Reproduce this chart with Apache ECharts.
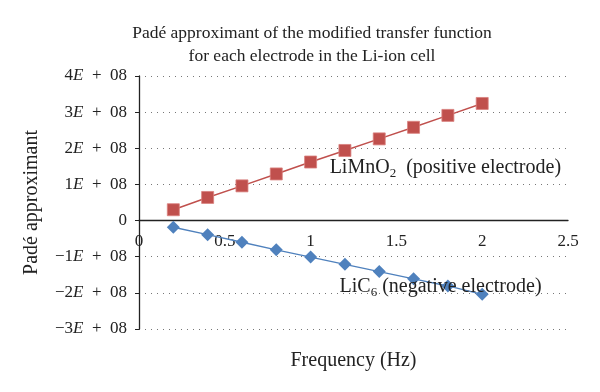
<!DOCTYPE html>
<html><head><meta charset="utf-8">
<script src="https://cdn.jsdelivr.net/npm/echarts@6/dist/echarts.min.js"></script>
<style>html,body{margin:0;padding:0;background:#fff}#c{width:600px;height:392px}</style>
</head><body><div id="c"></div>
<script>
const frequency = [0.2, 0.4, 0.6, 0.8, 1.0, 1.2, 1.4, 1.6, 1.8, 2.0];
const positiveLiMnO2 = [3.0e7, 6.4e7, 9.6e7, 1.29e8, 1.62e8, 1.94e8, 2.26e8, 2.58e8, 2.91e8, 3.24e8];
const negativeLiC6 = [-1.85e7, -3.9e7, -6.0e7, -8.1e7, -1.01e8, -1.21e8, -1.41e8, -1.61e8, -1.81e8, -2.04e8];
const titleLines = ['Padé approximant of the modified transfer function', 'for each electrode in the Li-ion cell'];

const FONT = '"Liberation Serif", "DejaVu Serif", serif';
const FS = 17;
const FN = 20;
const chart = echarts.init(document.getElementById('c'));
const subRich = { s: { fontFamily: FONT, fontSize: 13, color: '#222', verticalAlign: 'bottom', padding: [11, 0, 0, 0] } };
const GRID = { left: 139, right: 32, top: 76, bottom: 63, outerBoundsMode: 'none', containLabel: false };
chart.setOption({
  backgroundColor: '#fff',
  animation: false,
  textStyle: { fontFamily: FONT },
  title: {
    text: titleLines.join('\n'),
    left: 307, top: 17, textAlign: 'center',
    textStyle: { fontFamily: FONT, fontWeight: 'normal', fontSize: 17.5, color: '#222', lineHeight: 23 }
  },
  grid: GRID,
  xAxis: {
    type: 'value', min: 0, max: 2.5, interval: 0.5,
    name: 'Frequency (Hz)', nameLocation: 'middle', nameGap: 130,
    nameTextStyle: { fontFamily: FONT, fontSize: FN, color: '#222' },
    axisLine: { onZero: false, lineStyle: { color: '#222', width: 1.3 } },
    axisTick: { show: false },
    splitLine: { show: false },
    axisLabel: { fontFamily: FONT, fontSize: FS, color: '#222', margin: 12,
      formatter: v => String(v) }
  },
  yAxis: {
    type: 'value', min: -3e8, max: 4e8, interval: 1e8,
    name: 'Padé approximant', nameLocation: 'middle', nameGap: 97,
    nameTextStyle: { fontFamily: FONT, fontSize: FN, color: '#222' },
    axisLine: { show: true, onZero: false, lineStyle: { color: '#222', width: 1.3 } },
    axisTick: { show: true, length: 4, lineStyle: { color: '#222' } },
    splitLine: { show: true, lineStyle: { color: '#777', type: [1, 5], width: 1 } },
    axisLabel: {
      fontFamily: FONT, fontSize: FS, color: '#222', margin: 12,
      formatter: v => {
        if (v === 0) return '0';
        const n = Math.round(v / 1e8);
        return (n < 0 ? '\u2212' + (-n) : n) + '{e|E}\u2002+\u200208';
      },
      rich: { e: { fontFamily: FONT, fontStyle: 'italic', fontSize: FS, color: '#222' } }
    }
  },
  series: [
    {
      name: 'LiMnO2 (positive electrode)', type: 'line',
      data: frequency.map((f, i) => [f, positiveLiMnO2[i]]),
      symbol: 'rect', symbolSize: 12,
      itemStyle: { color: '#C0504D', borderColor: '#D9807E', borderWidth: 0.8 },
      lineStyle: { color: '#C0504D', width: 1.5 },
      markPoint: {
        symbol: 'circle', symbolSize: 1,
        itemStyle: { color: 'rgba(0,0,0,0)' },
        data: [{ coord: [1.108, 1.46e8] }],
        label: {
          show: true, position: 'right', distance: 0,
          formatter: 'LiMnO{s|2}\u2002(positive electrode)',
          fontFamily: FONT, fontSize: FN, color: '#222',
          rich: subRich
        }
      }
    },
    {
      name: 'LiC6 (negative electrode)', type: 'line',
      data: frequency.map((f, i) => [f, negativeLiC6[i]]),
      symbol: 'diamond', symbolSize: 13,
      itemStyle: { color: '#4F81BD' },
      lineStyle: { color: '#4F81BD', width: 1.3 },
      z: 3,
      markPoint: {
        symbol: 'circle', symbolSize: 1,
        itemStyle: { color: 'rgba(0,0,0,0)' },
        data: [{ coord: [1.166, -1.84e8] }],
        label: {
          show: true, position: 'right', distance: 0,
          formatter: 'LiC{s|6} (negative electrode)',
          fontFamily: FONT, fontSize: FN, color: '#222',
          rich: subRich
        }
      }
    }
  ]
});
// Move the x axis (line, labels, name) up to the y = 0 line, as in the reference.
const zeroY = chart.convertToPixel({ yAxisIndex: 0 }, 0);
const bottomY = 392 - GRID.bottom;
const shift = bottomY - zeroY;
chart.setOption({ xAxis: { offset: -shift } });
</script></body></html>
